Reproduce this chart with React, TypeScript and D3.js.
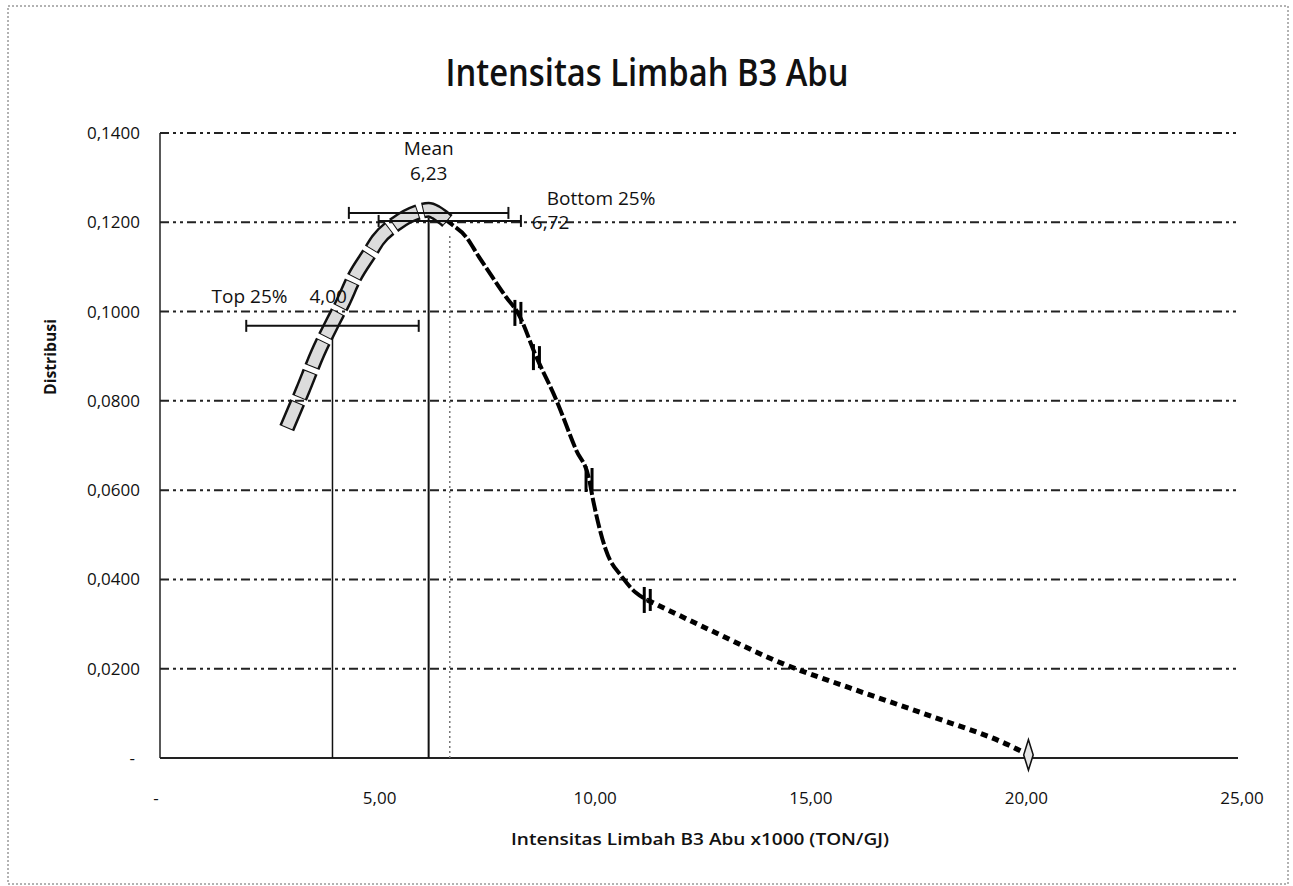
import React, { useRef, useEffect } from 'react';
import * as d3 from 'd3';

/* ─── data ─── */
const TITLE = 'Intensitas Limbah B3 Abu';
const X_TITLE = 'Intensitas Limbah B3 Abu x1000 (TON/GJ)';
const Y_TITLE = 'Distribusi';

const X_TICKS = [0, 5, 10, 15, 20, 25];
const Y_TICKS = [0, 0.02, 0.04, 0.06, 0.08, 0.1, 0.12, 0.14];

// distribution curve
const CURVE_X = [2.94, 3.31, 3.66, 4.0, 4.24, 4.51, 4.86, 5.05, 5.49, 5.95, 6.23, 6.4, 6.55, 6.7, 7.1, 7.4, 7.71, 8.03, 8.3, 8.73, 9.19, 9.65, 9.95, 10.05, 10.34, 10.72, 11.04, 11.3, 12.9, 14.35, 16.0, 17.9, 19.68, 20.14];
const CURVE_Y = [0.0739, 0.0824, 0.0907, 0.0975, 0.102, 0.1077, 0.1131, 0.116, 0.1198, 0.1222, 0.1228, 0.1222, 0.1212, 0.12, 0.1167, 0.1122, 0.1077, 0.1032, 0.0997, 0.0898, 0.0802, 0.069, 0.0625, 0.0575, 0.0466, 0.0405, 0.037, 0.0354, 0.028, 0.0215, 0.0157, 0.0093, 0.0029, 0.0007];
const BLOB_END = 6.7; // the scanned grey markers run up to here

// small double-bar markers on the falling side
const MARK_X = [8.3, 8.73, 9.95, 11.3];
const MARK_Y = [0.0997, 0.0898, 0.0625, 0.0354];

// reference lines + error bars
const REF_X = [4.0, 6.23, 6.72];
const REF_TOP = [0.0962, 0.121, 0.1172];
const BAR_Y = [0.0968, 0.1221, 0.1203];
const BAR_HALF = [2.0, 1.85, 1.65];

const W = 1293;
const H = 886;
const fmt = (d, n) => (d === 0 ? '-' : d.toFixed(n).replace('.', ','));

export default function App() {
    const svgRef = useRef(null);

    useEffect(() => {
        const svg = d3.select(svgRef.current);
        svg.selectAll('*').remove();

        const x = d3.scaleLinear().domain([0, 25]).range([160, 1238]);
        const y = d3.scaleLinear().domain([0, 0.14]).range([758, 133]);
        const font = "'Open Sans', 'Noto Sans', sans-serif";
        const ink = '#111';

        // outer chart border (scanned, dotted)
        svg.append('rect').attr('x', 8).attr('y', 6).attr('width', 1280).attr('height', 878)
            .attr('fill', 'none').attr('stroke', '#666').attr('stroke-width', 1).attr('stroke-dasharray', '2,2');

        // title
        svg.append('text').attr('x', 647).attr('y', 86).attr('text-anchor', 'middle')
            .attr('font-family', font).attr('font-weight', 600).attr('font-size', 38)
            .attr('textLength', 403).attr('lengthAdjust', 'spacingAndGlyphs')
            .attr('fill', ink).text(TITLE);

        // gridlines
        svg.append('g').selectAll('line').data(Y_TICKS.filter(d => d > 0)).join('line')
            .attr('x1', x(0)).attr('x2', x(25)).attr('y1', d => y(d)).attr('y2', d => y(d))
            .attr('stroke', '#222').attr('stroke-width', 2).attr('stroke-dasharray', '9,4,3,4,3,4');

        // axes
        svg.append('line').attr('x1', x(0)).attr('x2', x(0)).attr('y1', y(0.14)).attr('y2', y(0))
            .attr('stroke', '#222').attr('stroke-width', 1.5);
        svg.append('line').attr('x1', x(0)).attr('x2', x(25)).attr('y1', y(0)).attr('y2', y(0))
            .attr('stroke', '#222').attr('stroke-width', 2);

        // y tick labels
        svg.append('g').selectAll('text').data(Y_TICKS).join('text')
            .attr('x', d => (d === 0 ? 135 : 140)).attr('y', d => y(d) + 6).attr('text-anchor', 'end')
            .attr('font-family', font).attr('font-size', 17).attr('fill', ink)
            .text(d => fmt(d, 4));

        // x tick labels
        svg.append('g').selectAll('text').data(X_TICKS).join('text')
            .attr('x', d => x(d) + (d === 0 ? -4 : 4)).attr('y', 804).attr('text-anchor', 'middle')
            .attr('font-family', font).attr('font-size', 17).attr('fill', ink)
            .text(d => fmt(d, 2));

        // axis titles
        svg.append('text').attr('x', 700).attr('y', 845).attr('text-anchor', 'middle')
            .attr('font-family', font).attr('font-weight', 600).attr('font-size', 17)
            .attr('textLength', 378).attr('lengthAdjust', 'spacingAndGlyphs')
            .attr('fill', ink).text(X_TITLE);
        svg.append('text').attr('transform', 'translate(56,357) rotate(-90)').attr('text-anchor', 'middle')
            .attr('font-family', font).attr('font-weight', 700).attr('font-size', 16)
            .attr('textLength', 76).attr('lengthAdjust', 'spacingAndGlyphs')
            .attr('fill', ink).text(Y_TITLE);

        // reference verticals
        const refs = REF_X.map((v, i) => ({ v, top: REF_TOP[i], by: BAR_Y[i], half: BAR_HALF[i], i }));
        svg.append('g').selectAll('line').data(refs).join('line')
            .attr('x1', d => x(d.v)).attr('x2', d => x(d.v)).attr('y1', y(0)).attr('y2', d => y(d.top))
            .attr('stroke', d => (d.i === 2 ? '#777' : '#111'))
            .attr('stroke-width', d => (d.i === 1 ? 2 : 1.5))
            .attr('stroke-dasharray', d => (d.i === 2 ? '2,3' : null));

        // curve
        const pts = CURVE_X.map((v, i) => [v, CURVE_Y[i]]);
        const line = d3.line().x(d => x(d[0])).y(d => y(d[1])).curve(d3.curveMonotoneX);
        svg.append('path').datum(pts.filter(d => d[0] >= BLOB_END - 0.2 && d[0] <= 11.3))
            .attr('fill', 'none').attr('stroke', '#000').attr('stroke-width', 4)
            .attr('stroke-dasharray', '14,3').attr('d', line);
        svg.append('path').datum(pts.filter(d => d[0] >= 11.3))
            .attr('fill', 'none').attr('stroke', '#000').attr('stroke-width', 5)
            .attr('stroke-dasharray', '7,5').attr('d', line);

        const blob = pts.filter(d => d[0] <= BLOB_END);
        svg.append('path').datum(blob)
            .attr('fill', 'none').attr('stroke', '#111').attr('stroke-width', 16)
            .attr('stroke-dasharray', '28,5').attr('d', line);
        svg.append('path').datum(blob)
            .attr('fill', 'none').attr('stroke', '#dcdcdc').attr('stroke-width', 11)
            .attr('stroke-dasharray', '26,7').attr('stroke-dashoffset', -1).attr('d', line);

        // double-bar markers
        const marks = MARK_X.map((v, i) => [v, MARK_Y[i]]);
        const mg = svg.append('g').selectAll('g').data(marks).join('g')
            .attr('transform', d => `translate(${x(d[0])},${y(d[1])})`);
        mg.append('line').attr('x1', -3).attr('x2', -3).attr('y1', -13).attr('y2', 13)
            .attr('stroke', '#000').attr('stroke-width', 3);
        mg.append('line').attr('x1', 3).attr('x2', 3).attr('y1', -11).attr('y2', 11)
            .attr('stroke', '#000').attr('stroke-width', 3);

        // end marker
        const last = pts[pts.length - 1];
        svg.append('path')
            .attr('d', d3.symbol(d3.symbolDiamond, 160)())
            .attr('transform', `translate(${x(last[0])},${y(last[1])}) scale(0.7,1.3)`)
            .attr('fill', '#e6e6e6').attr('stroke', '#111').attr('stroke-width', 2);

        // error bars
        const eb = svg.append('g').selectAll('g').data(refs).join('g');
        eb.append('line')
            .attr('x1', d => x(d.v - d.half)).attr('x2', d => x(d.v + d.half))
            .attr('y1', d => y(d.by)).attr('y2', d => y(d.by))
            .attr('stroke', '#111').attr('stroke-width', 2);
        eb.append('line')
            .attr('x1', d => x(d.v - d.half)).attr('x2', d => x(d.v - d.half))
            .attr('y1', d => y(d.by) - 6).attr('y2', d => y(d.by) + 6)
            .attr('stroke', '#111').attr('stroke-width', 2);
        eb.append('line')
            .attr('x1', d => x(d.v + d.half)).attr('x2', d => x(d.v + d.half))
            .attr('y1', d => y(d.by) - 6).attr('y2', d => y(d.by) + 6)
            .attr('stroke', '#111').attr('stroke-width', 2);

        // annotations
        const lab = (tx, ty, anchor, s) => svg.append('text').attr('x', tx).attr('y', ty)
            .attr('text-anchor', anchor).attr('font-family', font).attr('font-size', 19)
            .attr('fill', ink).text(s);
        lab(x(REF_X[0]) - 45, 303, 'end', 'Top 25%');
        lab(x(REF_X[0]) - 23, 303, 'start', fmt(REF_X[0], 2));
        lab(x(REF_X[1]), 155, 'middle', 'Mean');
        lab(x(REF_X[1]), 180, 'middle', fmt(REF_X[1], 2));
        lab(x(REF_X[2]) + 97, 205, 'start', 'Bottom 25%');
        lab(x(REF_X[2]) + 82, 229, 'start', fmt(REF_X[2], 2));
    }, []);

    return (
        <svg ref={svgRef} width={W} height={H}
            style={{ position: 'absolute', left: 0, top: 0, display: 'block', background: '#fff' }} />
    );
}
